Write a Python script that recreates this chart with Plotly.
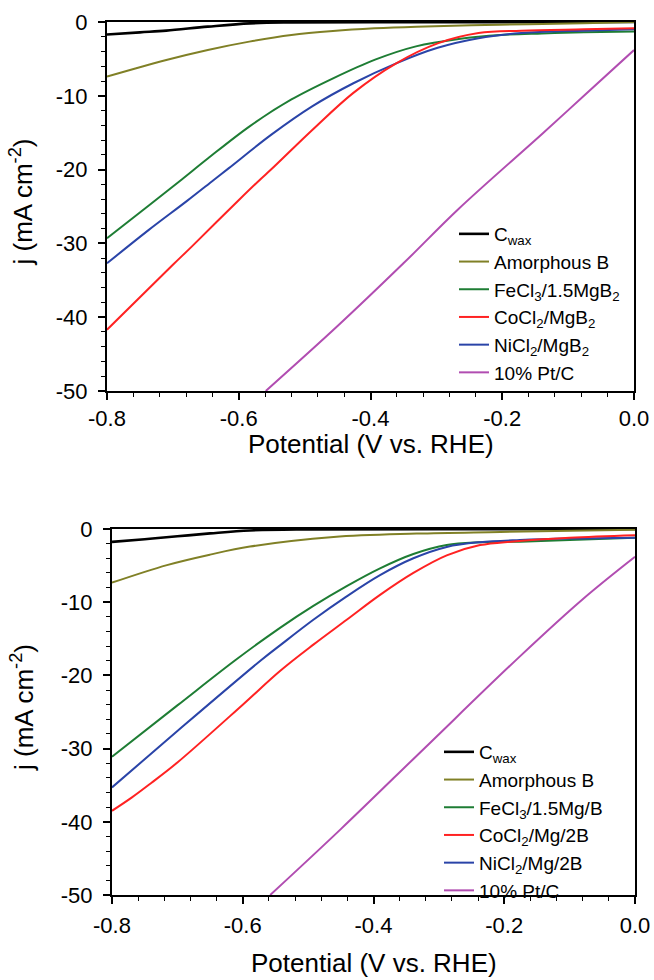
import plotly.graph_objects as go

W, H = 654, 980

# ---------------- data (top panel) ----------------
cwax_v = [-0.8, -0.75, -0.71, -0.647, -0.583, -0.52, -0.4, -0.2, 0.0]
cwax_j = [-1.7, -1.4, -1.17, -0.63, -0.18, -0.06, -0.03, -0.02, 0.0]

amb_v = [-0.8, -0.71, -0.647, -0.584, -0.52, -0.457, -0.394, -0.33, -0.204, -0.077, 0.0]
amb_j = [-7.4, -5.15, -3.79, -2.66, -1.76, -1.22, -0.86, -0.63, -0.36, -0.18, 0.0]

fe_v = [-0.8, -0.737, -0.686, -0.647, -0.583, -0.52, -0.456, -0.393, -0.331, -0.266, -0.203, -0.14, -0.076, 0.0]
fe_j = [-29.3, -24.9, -21.3, -18.5, -14.1, -10.5, -7.6, -5.1, -3.3, -2.3, -1.76, -1.55, -1.4, -1.3]

co_v = [-0.8, -0.7, -0.671, -0.599, -0.567, -0.551, -0.488, -0.426, -0.361, -0.298, -0.236, -0.171, -0.076, 0.0]
co_j = [-41.7, -32.9, -30.4, -24.05, -21.3, -20.0, -14.6, -9.6, -5.6, -2.9, -1.5, -1.17, -0.99, -0.86]

ni_v = [-0.8, -0.737, -0.678, -0.638, -0.615, -0.551, -0.488, -0.426, -0.361, -0.298, -0.236, -0.171, -0.076, 0.0]
ni_j = [-32.7, -28.2, -24.2, -21.4, -19.8, -15.3, -11.4, -8.3, -5.6, -3.5, -2.2, -1.5, -1.17, -0.97]

pt_v = [-0.559, -0.45, -0.35, -0.266, -0.14, -0.076, 0.0]
pt_j = [-50.0, -41.2, -32.7, -25.3, -15.2, -10.0, -3.8]

# ---------------- data (bottom panel) ----------------
cwax2_v = [-0.8, -0.75, -0.7, -0.65, -0.589, -0.5, -0.3, 0.0]
cwax2_j = [-1.76, -1.4, -1.0, -0.6, -0.2, -0.06, -0.03, 0.0]

amb2_v = [-0.8, -0.716, -0.65, -0.589, -0.461, -0.334, -0.206, 0.0]
amb2_j = [-7.33, -4.93, -3.5, -2.4, -1.09, -0.63, -0.41, -0.1]

fe2_v = [-0.8, -0.7, -0.611, -0.543, -0.492, -0.441, -0.39, -0.339, -0.288, -0.237, -0.176, -0.1, 0.0]
fe2_j = [-31.1, -24.1, -17.9, -13.5, -10.5, -7.8, -5.37, -3.41, -2.18, -1.82, -1.73, -1.5, -1.2]

co2_v = [-0.8, -0.77, -0.74, -0.7, -0.6, -0.543, -0.492, -0.441, -0.39, -0.339, -0.288, -0.237, -0.186, -0.1, 0.0]
co2_j = [-38.5, -36.7, -34.7, -31.9, -24.0, -19.4, -15.8, -12.4, -9.0, -6.0, -3.6, -2.2, -1.7, -1.2, -0.86]

ni2_v = [-0.8, -0.7, -0.573, -0.543, -0.492, -0.441, -0.39, -0.339, -0.288, -0.237, -0.176, -0.1, 0.0]
ni2_j = [-35.3, -27.6, -18.0, -15.9, -12.4, -9.2, -6.3, -4.0, -2.45, -1.8, -1.5, -1.3, -1.18]

pt2_v = [-0.558, -0.45, -0.318, -0.176, -0.08, 0.0]
pt2_j = [-50.0, -41.0, -29.6, -17.4, -9.6, -3.8]

names_top = ["C<sub>wax</sub>", "Amorphous B", "FeCl<sub>3</sub>/1.5MgB<sub>2</sub>",
             "CoCl<sub>2</sub>/MgB<sub>2</sub>", "NiCl<sub>2</sub>/MgB<sub>2</sub>", "10% Pt/C"]
names_bot = ["C<sub>wax</sub>", "Amorphous B", "FeCl<sub>3</sub>/1.5Mg/B",
             "CoCl<sub>2</sub>/Mg/2B", "NiCl<sub>2</sub>/Mg/2B", "10% Pt/C"]

x_tickvals = [-0.8, -0.6, -0.4, -0.2, 0.0]
x_ticktext = ["-0.8", "-0.6", "-0.4", "-0.2", "0.0"]
y_tickvals = [0, -10, -20, -30, -40, -50]
y_ticktext = ["0", "-10", "-20", "-30", "-40", "-50"]

colors = ["#000000", "#808026", "#1e7d34", "#ff2222", "#2a44a8", "#b14db1"]
widths = [2.6, 2.0, 2.0, 2.0, 2.0, 2.0]

FONT = "Liberation Sans, Arial, sans-serif"

top_series = [(cwax_v, cwax_j), (amb_v, amb_j), (fe_v, fe_j), (ni_v, ni_j), (co_v, co_j), (pt_v, pt_j)]
bot_series = [(cwax2_v, cwax2_j), (amb2_v, amb2_j), (fe2_v, fe2_j), (ni2_v, ni2_j), (co2_v, co2_j), (pt2_v, pt2_j)]
order_idx = [0, 1, 2, 4, 3, 5]  # drawn index -> name/colour index

fig = go.Figure()
for k, (v, j) in enumerate(top_series):
    ci = order_idx[k]
    fig.add_trace(go.Scatter(x=v, y=j, mode="lines", name=names_top[ci],
                             line=dict(color=colors[ci], width=widths[ci], shape="spline", smoothing=1.0),
                             xaxis="x", yaxis="y", legend="legend", legendrank=ci + 1))
for k, (v, j) in enumerate(bot_series):
    ci = order_idx[k]
    fig.add_trace(go.Scatter(x=v, y=j, mode="lines", name=names_bot[ci],
                             line=dict(color=colors[ci], width=widths[ci], shape="spline", smoothing=1.0),
                             xaxis="x2", yaxis="y2", legend="legend2", legendrank=ci + 1))


def px_x(p):
    return p / W


def px_y(p):
    return 1 - p / H


top_box = (107, 634, 22, 391)
bot_box = (112, 635, 529, 895)


def xax(box, anchor, standoff):
    return dict(domain=[px_x(box[0]), px_x(box[1])], range=[-0.8, 0.0], anchor=anchor,
                automargin=False,
                tickmode="array", tickvals=x_tickvals, ticktext=x_ticktext,
                showline=True, linecolor="black", linewidth=2, mirror=True,
                ticks="outside", ticklen=7, tickwidth=1.5, tickcolor="black",
                minor=dict(tick0=0, dtick=0.04, ticks="outside", ticklen=4, tickwidth=1.2, tickcolor="black"),
                showgrid=False, zeroline=False, ticklabelstandoff=standoff,
                tickfont=dict(family=FONT, size=22, color="black"))


def yax(box, anchor):
    return dict(domain=[px_y(box[3]), px_y(box[2])], range=[-50, 0], anchor=anchor,
                automargin=False,
                tickmode="array", tickvals=y_tickvals, ticktext=y_ticktext,
                showline=True, linecolor="black", linewidth=2, mirror=True,
                ticks="outside", ticklen=7, tickwidth=1.5, tickcolor="black",
                minor=dict(tick0=0, dtick=2, ticks="outside", ticklen=4, tickwidth=1.2, tickcolor="black"),
                showgrid=False, zeroline=False, ticklabelstandoff=6,
                tickfont=dict(family=FONT, size=22, color="black"))


leg_common = dict(font=dict(family=FONT, size=19, color="black"), bgcolor="rgba(0,0,0,0)",
                  xanchor="left", yanchor="top", tracegroupgap=0, traceorder="normal")

fig.update_layout(
    width=W, height=H, margin=dict(l=0, r=0, t=0, b=0, pad=0, autoexpand=False),
    paper_bgcolor="white", plot_bgcolor="white",
    font=dict(family=FONT, color="black"),
    xaxis=xax(top_box, "y", 0), yaxis=yax(top_box, "x"),
    xaxis2=xax(bot_box, "y2", 3), yaxis2=yax(bot_box, "x2"),
    legend=dict(x=px_x(454), y=px_y(215), **leg_common),
    legend2=dict(x=px_x(439), y=px_y(733), **leg_common),
    showlegend=True,
)

title_y = [444, 963]
for box, ty in zip((top_box, bot_box), title_y):
    fig.add_annotation(text="Potential (V vs. RHE)", xref="paper", yref="paper",
                       x=px_x((box[0] + box[1]) / 2), y=px_y(ty),
                       showarrow=False, font=dict(family=FONT, size=26, color="black"),
                       xanchor="center", yanchor="middle")
    fig.add_annotation(text="j (mA cm<sup>-2</sup>)", xref="paper", yref="paper",
                       x=px_x(22), y=px_y((box[2] + box[3]) / 2 - 4), textangle=-90,
                       showarrow=False, font=dict(family=FONT, size=26, color="black"),
                       xanchor="center", yanchor="middle")

fig.write_html("out.html", config={"displayModeBar": False},
               post_script="document.body.style.margin='0';document.body.style.overflow='hidden';")
